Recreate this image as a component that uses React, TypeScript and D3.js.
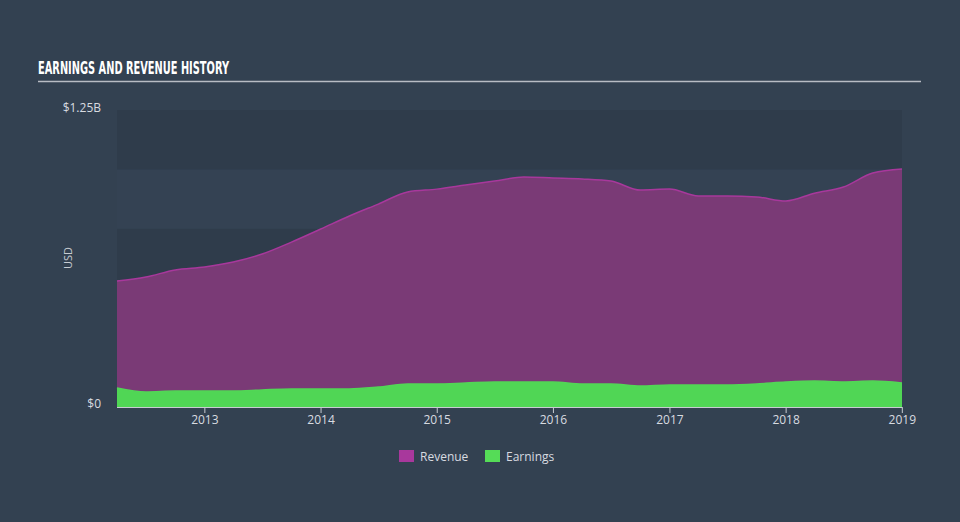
import React from "react";
import * as d3 from "d3";

const dates = [
  "2012-03-31","2012-06-30","2012-09-30","2012-12-31",
  "2013-03-31","2013-06-30","2013-09-30","2013-12-31",
  "2014-03-31","2014-06-30","2014-09-30","2014-12-31",
  "2015-03-31","2015-06-30","2015-09-30","2015-12-31",
  "2016-03-31","2016-06-30","2016-09-30","2016-12-31",
  "2017-03-31","2017-06-30","2017-09-30","2017-12-31",
  "2018-03-31","2018-06-30","2018-09-30","2018-12-31",
];
const revenue = [
  0.530, 0.547, 0.577, 0.589,
  0.610, 0.644, 0.694, 0.749,
  0.804, 0.854, 0.905, 0.917,
  0.934, 0.951, 0.968, 0.964,
  0.960, 0.951, 0.913, 0.917,
  0.888, 0.888, 0.884, 0.867,
  0.900, 0.926, 0.985, 1.002,
];
const earnings = [
  0.080, 0.063, 0.067, 0.067,
  0.067, 0.072, 0.076, 0.076,
  0.076, 0.084, 0.097, 0.097,
  0.101, 0.105, 0.105, 0.105,
  0.097, 0.097, 0.088, 0.093,
  0.093, 0.093, 0.097, 0.105,
  0.109, 0.105, 0.109, 0.101,
];
const yTickLabels = ["$0", "$1.25B"];
const xTickYears = [2013, 2014, 2015, 2016, 2017, 2018, 2019];
const legendItems = ["Revenue", "Earnings"];

const W = 960, H = 522;
const M = { left: 117, right: 902, top: 110, bottom: 407 };

export default function App() {
  const parse = d3.timeParse("%Y-%m-%d");
  const ds = dates.map((d) => parse(d) as Date);
  const x = d3.scaleTime().domain([ds[0], ds[ds.length - 1]]).range([M.left, M.right]);
  const y = d3.scaleLinear().domain([0, 1.25]).range([M.bottom, M.top]);

  const area = (vals: number[]) =>
    d3.area<number>().x((_, i) => x(ds[i])).y0(y(0)).y1((v) => y(v)).curve(d3.curveMonotoneX)(vals) || "";
  const line = (vals: number[]) =>
    d3.line<number>().x((_, i) => x(ds[i])).y((v) => y(v)).curve(d3.curveMonotoneX)(vals) || "";

  const bands = d3.range(0, 1.25, 0.25);
  const colors = { rev: "#a8389c", revFill: "#7a3a76", earn: "#52d656", earnFill: "#50d655" };
  const legendColors = ["#a8389c", "#55dc57"];

  return (
    <svg width={W} height={H} style={{ position: "absolute", left: 0, top: 0, display: "block" }}>
      <rect x={0} y={0} width={W} height={H} fill="#334151" />
      <text x={38} y={74} fill="#ffffff" fontFamily="'DejaVu Sans Condensed', 'DejaVu Sans'" fontWeight="bold" fontSize={18}
        textLength={191} lengthAdjust="spacingAndGlyphs">
        EARNINGS AND REVENUE HISTORY
      </text>
      <line x1={38} x2={921} y1={81.5} y2={81.5} stroke="#b8bcc4" strokeWidth={1.5} />
      {bands.map((b, i) => (
        <rect key={i} x={M.left} width={M.right - M.left} y={y(b + 0.25)} height={y(b) - y(b + 0.25)}
          fill={i % 2 === 0 ? "#2f3c4b" : "#344253"} />
      ))}
      <path d={area(revenue)} fill={colors.revFill} />
      <path d={line(revenue)} fill="none" stroke={colors.rev} strokeWidth={1.5} />
      <path d={area(earnings)} fill={colors.earnFill} />
      <path d={line(earnings)} fill="none" stroke={colors.earn} strokeWidth={1.5} />
      <line x1={M.left} x2={M.right} y1={M.bottom + 0.5} y2={M.bottom + 0.5} stroke="#c8ccd2" strokeWidth={1} />
      {xTickYears.map((yr) => {
        const px = x(new Date(yr, 0, 1));
        return (
          <g key={yr}>
            <line x1={px} x2={px} y1={M.bottom} y2={M.bottom + 6} stroke="#c8ccd2" strokeWidth={1} />
            <text x={px} y={424} textAnchor="middle" fill="#d8dbe0" fontFamily="'Open Sans', 'DejaVu Sans'" fontSize={12}>{yr}</text>
          </g>
        );
      })}
      <text x={101} y={408} textAnchor="end" fill="#d8dbe0" fontFamily="'Open Sans', 'DejaVu Sans'" fontSize={12}>{yTickLabels[0]}</text>
      <text x={101} y={112} textAnchor="end" fill="#d8dbe0" fontFamily="'Open Sans', 'DejaVu Sans'" fontSize={12}>{yTickLabels[1]}</text>
      <text transform="translate(72,258) rotate(-90)" textAnchor="middle" fill="#c8ccd2" fontFamily="'Open Sans', 'DejaVu Sans'" fontSize={11}>USD</text>
      {legendItems.map((name, i) => {
        const lx = i === 0 ? 399 : 485;
        return (
          <g key={name}>
            <rect x={lx} y={450} width={15} height={12} fill={legendColors[i]} />
            <text x={lx + 21} y={460.5} fill="#d8dbe0" fontFamily="'Open Sans', 'DejaVu Sans'" fontSize={12}>{name}</text>
          </g>
        );
      })}
    </svg>
  );
}
